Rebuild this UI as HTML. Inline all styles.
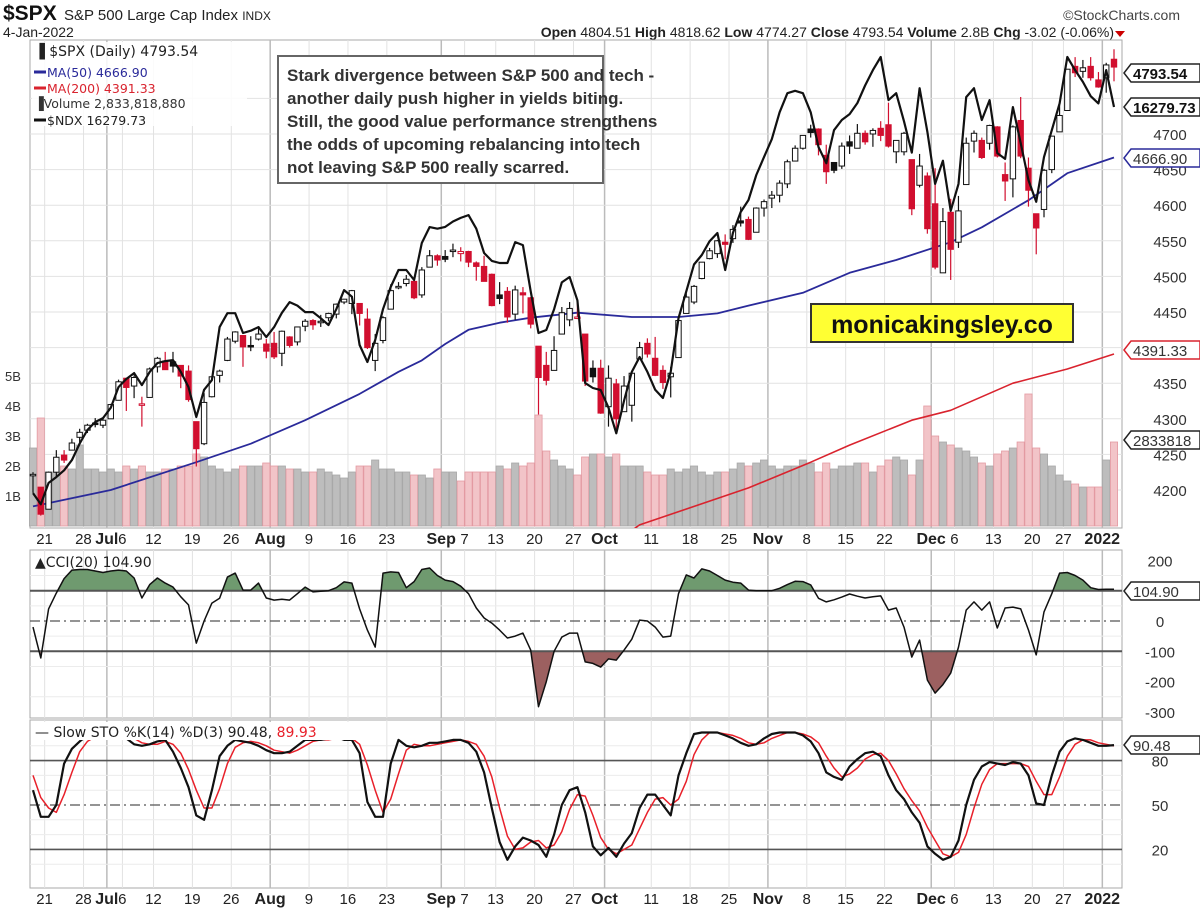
<!DOCTYPE html>
<html><head><meta charset="utf-8">
<style>
html,body{margin:0;padding:0;background:#fff;}
body{width:1200px;height:912px;overflow:hidden;font-family:"Liberation Sans",Arial,sans-serif;}
svg{display:block}
</style></head>
<body>
<svg id="chart" width="1200" height="912" viewBox="0 0 1200 912" xmlns="http://www.w3.org/2000/svg">
  <g>
    <text x="3" y="20" font-size="21" font-weight="bold" fill="#111">$SPX</text>
    <text x="64" y="20" font-size="15" fill="#222">S&amp;P 500 Large Cap Index <tspan font-size="12">INDX</tspan></text>
    <text x="1180" y="20" font-size="14" fill="#444" text-anchor="end">©StockCharts.com</text>
    <text x="3" y="37" font-size="14" fill="#222">4-Jan-2022</text>
    <text x="1114" y="37" font-size="14" fill="#222" text-anchor="end"><tspan font-weight="bold">Open</tspan> 4804.51  <tspan font-weight="bold">High</tspan> 4818.62  <tspan font-weight="bold">Low</tspan> 4774.27  <tspan font-weight="bold">Close</tspan> 4793.54  <tspan font-weight="bold">Volume</tspan> 2.8B  <tspan font-weight="bold">Chg</tspan> -3.02 (-0.06%)</text>
    <path d="M1115 31 L1125 31 L1120 37 Z" fill="#c00"/>
  </g>
  <g id="main"></g>
  <g id="cci"></g>
  <g id="sto"></g>
</svg>
<script>
const dates=["6/17","6/18","6/21","6/22","6/23","6/24","6/25","6/28","6/29","6/30","7/1","7/2","7/6","7/7","7/8","7/9","7/12","7/13","7/14","7/15","7/16","7/19","7/20","7/21","7/22","7/23","7/26","7/27","7/28","7/29","7/30","8/2","8/3","8/4","8/5","8/6","8/9","8/10","8/11","8/12","8/13","8/16","8/17","8/18","8/19","8/20","8/23","8/24","8/25","8/26","8/27","8/30","8/31","9/1","9/2","9/3","9/7","9/8","9/9","9/10","9/13","9/14","9/15","9/16","9/17","9/20","9/21","9/22","9/23","9/24","9/27","9/28","9/29","9/30","10/1","10/4","10/5","10/6","10/7","10/8","10/11","10/12","10/13","10/14","10/15","10/18","10/19","10/20","10/21","10/22","10/25","10/26","10/27","10/28","10/29","11/1","11/2","11/3","11/4","11/5","11/8","11/9","11/10","11/11","11/12","11/15","11/16","11/17","11/18","11/19","11/22","11/23","11/24","11/26","11/29","11/30","12/1","12/2","12/3","12/6","12/7","12/8","12/9","12/10","12/13","12/14","12/15","12/16","12/17","12/20","12/21","12/22","12/23","12/27","12/28","12/29","12/30","12/31","1/3","1/4"];
const opens=[4220,4204,4173,4225,4249,4256,4274,4284,4294,4291,4300,4326,4357,4346,4321,4330,4373,4381,4380,4375,4367,4296,4265,4331,4361,4382,4409,4417,4403,4412,4405,4406,4392,4415,4408,4430,4438,4436,4442,4447,4464,4462,4462,4440,4382,4410,4454,4484,4490,4493,4474,4513,4529,4528,4535,4532,4535,4519,4514,4503,4474,4479,4447,4477,4470,4402,4375,4368,4419,4439,4442,4419,4371,4371,4317,4349,4310,4319,4384,4406,4385,4368,4359,4386,4448,4464,4497,4525,4532,4548,4553,4578,4580,4562,4596,4610,4614,4630,4662,4680,4707,4707,4670,4660,4655,4689,4680,4701,4700,4708,4713,4675,4675,4664,4628,4641,4602,4505,4590,4548,4629,4690,4691,4687,4710,4643,4637,4719,4652,4588,4594,4650,4703,4733,4795,4788,4795,4776,4779,4805];
const highs=[4225,4204,4226,4256,4256,4272,4286,4293,4301,4302,4321,4355,4357,4361,4331,4372,4387,4394,4394,4375,4375,4296,4336,4359,4369,4415,4423,4416,4416,4430,4412,4422,4424,4416,4429,4440,4440,4446,4449,4462,4468,4481,4462,4455,4419,4444,4489,4492,4502,4495,4513,4537,4531,4537,4546,4541,4536,4521,4529,4504,4492,4485,4487,4485,4471,4402,4394,4416,4457,4464,4467,4419,4382,4383,4375,4356,4360,4366,4408,4413,4415,4375,4373,4439,4476,4488,4520,4540,4551,4559,4572,4598,4584,4597,4608,4620,4635,4664,4684,4698,4713,4708,4685,4660,4688,4698,4714,4705,4708,4718,4744,4691,4703,4664,4672,4646,4652,4596,4609,4613,4695,4705,4695,4713,4711,4660,4712,4752,4667,4588,4651,4697,4741,4791,4808,4804,4808,4787,4800,4819];
const lows=[4196,4164,4173,4217,4238,4256,4267,4280,4288,4287,4300,4326,4311,4329,4289,4330,4365,4369,4365,4343,4324,4233,4263,4330,4351,4381,4406,4373,4395,4410,4385,4384,4374,4400,4403,4423,4425,4429,4437,4441,4461,4447,4431,4398,4367,4406,4454,4482,4486,4468,4470,4513,4515,4520,4527,4521,4513,4494,4493,4458,4461,4435,4439,4448,4427,4306,4347,4368,4419,4430,4440,4346,4351,4307,4289,4279,4310,4296,4384,4386,4360,4342,4330,4386,4448,4461,4496,4524,4526,4524,4547,4570,4551,4562,4584,4596,4604,4624,4662,4678,4695,4670,4630,4645,4651,4672,4680,4685,4682,4690,4681,4659,4670,4586,4625,4560,4510,4505,4495,4540,4629,4674,4665,4678,4667,4606,4611,4666,4598,4531,4583,4645,4703,4733,4780,4779,4775,4765,4758,4774];
const closes=[4222,4166,4225,4246,4242,4266,4281,4291,4292,4298,4320,4352,4344,4358,4321,4370,4385,4369,4374,4360,4327,4258,4323,4359,4367,4412,4422,4401,4401,4419,4395,4387,4423,4403,4429,4437,4432,4437,4448,4461,4468,4480,4448,4400,4406,4442,4480,4486,4496,4470,4509,4529,4523,4524,4537,4535,4520,4514,4493,4459,4469,4443,4481,4474,4433,4358,4354,4396,4449,4455,4443,4353,4359,4308,4357,4300,4346,4364,4400,4391,4361,4351,4364,4438,4471,4486,4520,4536,4550,4545,4566,4575,4552,4596,4605,4614,4631,4661,4680,4698,4702,4685,4647,4649,4683,4683,4701,4689,4705,4698,4683,4691,4701,4595,4655,4567,4513,4577,4538,4592,4687,4701,4667,4712,4669,4634,4710,4669,4621,4568,4649,4697,4726,4791,4786,4793,4779,4766,4797,4794];
const ndx=[14123,14060,14180,14212,14250,14307,14400,14475,14520,14542,14600,14715,14760,14793,14726,14800,14849,14860,14866,14800,14715,14548,14700,14754,15050,15128,15128,15017,15030,15050,14994,15050,15130,15190,15170,15134,15134,15100,15062,15150,15257,15220,14950,14855,14978,15150,15274,15369,15369,15313,15520,15609,15600,15610,15640,15660,15676,15600,15464,15420,15408,15408,15525,15508,15250,15017,15034,15150,15300,15330,15200,14737,14710,14698,14600,14457,14640,14800,14883,14800,14700,14654,14800,15100,15250,15400,15453,15530,15576,15369,15576,15693,15760,15900,16000,16100,16250,16357,16370,16357,16250,16056,15966,16150,16207,16240,16302,16400,16486,16559,16318,16357,16200,16025,16385,16140,15850,15980,15700,15850,16335,16385,16207,16318,16022,15990,16279,16078,15871,15750,16000,16150,16300,16559,16486,16420,16340,16300,16486,16280];
const volumes=[2.6,3.6,1.8,1.8,2.0,1.9,2.7,1.9,1.9,1.8,1.9,1.8,2.0,1.9,2.0,1.8,1.8,1.9,1.9,2.0,2.0,2.4,2.3,2.0,1.9,1.8,1.9,2.0,2.0,2.0,2.1,2.0,2.0,1.9,1.9,1.8,1.8,1.9,1.8,1.7,1.6,1.8,2.0,2.0,2.2,1.9,1.9,1.8,1.8,1.7,1.7,1.6,1.9,1.8,1.8,1.5,1.8,1.8,1.8,1.8,2.0,1.9,2.1,2.0,2.1,3.7,2.5,2.2,2.0,1.9,1.7,2.3,2.4,2.4,2.3,2.4,2.0,2.0,2.0,1.8,1.7,1.7,1.9,1.8,1.9,2.0,1.8,1.7,1.8,1.8,1.9,2.1,2.0,2.1,2.2,2.0,1.9,2.0,2.0,2.2,2.1,1.8,2.1,1.9,2.0,2.0,2.1,2.1,1.8,2.0,2.2,2.3,2.2,1.7,2.2,4.0,3.0,2.8,2.7,2.6,2.5,2.3,2.1,2.0,2.4,2.5,2.6,2.8,4.4,2.6,2.4,2.0,1.7,1.5,1.4,1.3,1.3,1.3,2.2,2.8];
const ma50Idx=[0,10,21,28,35,42,47,50,53,56,60,64,70,77,83,88,92,99,105,111,118,122,128,133,139];
const ma50=[4177,4200,4239,4265,4298,4335,4366,4382,4405,4425,4435,4442,4449,4443,4443,4448,4459,4477,4505,4523,4548,4569,4607,4645,4667];
const ma200Idx=[70,78,92,100,105,113,118,126,133,139];
const ma200=[4090,4151,4203,4239,4263,4298,4312,4350,4370,4391];
const cci=[-20,-122,40,92,140,168,170,170,165,160,165,168,165,142,76,120,142,125,112,80,53,-73,0,59,75,145,158,102,102,125,76,69,72,69,90,112,96,98,100,110,129,125,40,-30,-86,158,162,160,110,130,170,175,150,135,130,115,90,43,10,-7,-30,-56,-50,-40,-96,-283,-200,-100,-53,-40,-40,-135,-140,-152,-125,-129,-96,-60,3,0,-20,-53,-50,90,152,142,172,165,150,135,128,125,102,100,100,100,108,120,131,130,119,75,63,70,79,89,82,76,80,83,36,43,-20,-119,-63,-195,-238,-210,-172,-86,36,63,36,63,-23,43,46,40,-30,-112,30,90,158,160,150,135,110,104,105,105];
const stoK=[60,42,42,50,78,88,93,97,99,99,99,98,95,91,90,91,93,94,86,75,62,43,40,60,83,90,94,93,92,90,87,85,85,86,90,94,94,94,95,96,94,94,85,52,42,42,78,94,90,89,90,92,92,93,94,94,92,86,72,48,25,13,22,28,26,23,15,30,50,60,62,45,22,16,21,15,24,31,48,57,57,50,43,70,85,98,99,99,99,97,95,92,90,91,95,98,99,99,99,97,93,85,72,69,67,76,81,85,86,83,70,60,54,45,38,22,17,13,15,26,50,67,76,79,78,77,79,78,70,51,50,70,86,93,95,94,92,90,90,90.48];
const stoD=[70,55,48,45,57,72,86,93,96,98,99,99,97,95,92,91,91,93,91,85,74,60,48,48,61,78,89,92,93,92,90,87,86,85,87,90,93,94,94,95,95,95,91,77,60,45,54,71,87,91,90,90,91,92,93,94,93,91,83,69,48,29,20,21,25,26,21,23,32,47,57,56,43,28,20,17,20,23,34,45,54,55,50,54,66,84,94,99,99,98,97,95,92,91,92,95,97,99,99,98,96,92,83,75,69,71,75,81,84,85,80,71,61,53,46,35,26,17,15,18,30,48,64,74,78,78,78,78,76,66,57,57,69,83,91,94,94,92,91,89.93];
const priceTicks=[4200,4250,4300,4350,4400,4450,4500,4550,4600,4650,4700];
const volTicks=[1,2,3,4,5];
const cciTicks=[200,0,-100,-200,-300];
const stoTicks=[80,50,20];
const dateTicks=[[2,"21",0],[7,"28",0],[10,"Jul",1],[12,"6",0],[16,"12",0],[21,"19",0],[26,"26",0],[31,"Aug",1],[36,"9",0],[41,"16",0],[46,"23",0],[53,"Sep",1],[56,"7",0],[60,"13",0],[65,"20",0],[70,"27",0],[74,"Oct",1],[80,"11",0],[85,"18",0],[90,"25",0],[95,"Nov",1],[100,"8",0],[105,"15",0],[110,"22",0],[116,"Dec",1],[119,"6",0],[124,"13",0],[129,"20",0],[133,"27",0],[138,"2022",1]];

const NS="http://www.w3.org/2000/svg";
function mk(parent,tag,attrs,text){const e=document.createElementNS(NS,tag);for(const k in attrs)e.setAttribute(k,attrs[k]);if(text!==undefined)e.textContent=text;parent.appendChild(e);return e;}
const L=30,R=1122;
const xOf=i=>33+i*((1114-33)/(dates.length-1));
const yP=p=>134-(p-4700)*0.712;
const yN=v=>107-(v-16279.73)*0.179;
const yV=v=>526-v*30;
const yC=v=>621-v*0.303;
const yS=v=>805-(v-50)*1.48;

const main=document.getElementById('main');
const cciG=document.getElementById('cci');
const stoG=document.getElementById('sto');

function panelFrame(g,top,bot,name){
  const r=mk(g,'rect',{x:L,y:top,width:R-L,height:bot-top,fill:'#fff',stroke:'#aaa','stroke-width':1});
  
  
  dateTicks.forEach(t=>{
    const gx=xOf(t[0])-3.9;
    const ln=mk(g,'line',{x1:gx,x2:gx,y1:top,y2:bot,stroke:t[2]?'#bbb':'#e2e2e2','stroke-width':t[2]?1.5:1});
    
    
  });
}
panelFrame(main,40,528,'price-panel');
priceTicks.concat([4750]).forEach(p=>{
  const y=yP(p);
  const ln=mk(main,'line',{x1:L,x2:R,y1:y,y2:y,stroke:'#e2e2e2'});
  
  
});
priceTicks.forEach(p=>{
  const t=mk(main,'text',{x:1170,y:yP(p)+6,'font-size':15,fill:'#333','text-anchor':'middle'},String(p));
  
  
});
volTicks.forEach(v=>{
  const t=mk(main,'text',{x:5,y:yV(v)+5,'font-size':13,fill:'#333'},v+'B');
  
  
});
volumes.forEach((v,i)=>{
  const down=i>0&&closes[i]<closes[i-1];
  const b=mk(main,'rect',{x:xOf(i)-3.6,y:yV(v),width:7.2,height:526-yV(v),fill:down?'#f2c4c8':'#bdbdbd',stroke:down?'#e39aa2':'#a8a8a8','stroke-width':0.8});
  
  
});
function polyline(g,idx,vals,yf,color,w,name){
  const pts=idx.map((i,k)=>xOf(i).toFixed(1)+','+yf(vals[k]).toFixed(1)).join(' ');
  const p=mk(g,'polyline',{points:pts,fill:'none',stroke:color,'stroke-width':w,'stroke-linejoin':'round'});
  
  
  return p;
}
const clipM=mk(main,'clipPath',{id:'clipMain'});
mk(clipM,'rect',{x:L,y:40,width:R-L,height:488});
const maG=mk(main,'g',{'clip-path':'url(#clipMain)'});
polyline(maG,ma200Idx,ma200,yP,'#d9232e',1.6,'ma200-line');
polyline(maG,ma50Idx,ma50,yP,'#2a2a9a',1.8,'ma50-line');
closes.forEach((c,i)=>{
  const o=opens[i],h=highs[i],l=lows[i];
  const down=i>0&&c<closes[i-1];
  const col=down?'#d10f2f':'#111';
  const x=xOf(i);
  const w=mk(main,'line',{x1:x,x2:x,y1:yP(h),y2:yP(l),stroke:col,'stroke-width':1.2});
  
  
  const top=yP(Math.max(o,c)),bh=Math.max(1.5,Math.abs(yP(o)-yP(c)));
  const filled=c<o;
  const b=mk(main,'rect',{x:x-2.7,y:top,width:5.4,height:bh,fill:filled?col:'#fff',stroke:col,'stroke-width':1});
  
  
});
polyline(main,ndx.map((v,i)=>i),ndx,yN,'#111',2.2,'ndx-line');
const lg=mk(main,'g',{'font-family':'"DejaVu Sans",sans-serif','font-size':13});


mk(lg,'rect',{x:32,y:42,width:215,height:84,fill:'#fff','fill-opacity':0.85});
mk(lg,'text',{x:34,y:56,fill:'#222','font-size':14},'\u2590 $SPX (Daily) 4793.54');
mk(lg,'line',{x1:34,x2:46,y1:72,y2:72,stroke:'#2a2a9a','stroke-width':3});
mk(lg,'text',{x:47,y:77,fill:'#2a2a9a','font-size':12.5},'MA(50) 4666.90');
mk(lg,'line',{x1:34,x2:46,y1:88,y2:88,stroke:'#d9232e','stroke-width':3});
mk(lg,'text',{x:47,y:93,fill:'#d9232e','font-size':12.5},'MA(200) 4391.33');
mk(lg,'text',{x:34,y:108,fill:'#333','font-size':12.5},'\u2590Volume 2,833,818,880');
mk(lg,'line',{x1:34,x2:46,y1:120,y2:120,stroke:'#111','stroke-width':3});
mk(lg,'text',{x:47,y:125,fill:'#222','font-size':12.5},'$NDX 16279.73');
const an=mk(main,'g',{});


mk(an,'rect',{x:278,y:56,width:325,height:127,fill:'#fff',stroke:'#666','stroke-width':2});
["Stark divergence between S&P 500 and tech -","another daily push higher in yields biting.","Still, the good value performance strengthens","the odds of upcoming rebalancing into tech","not leaving S&P 500 really scarred."].forEach((s,k)=>{
  mk(an,'text',{x:287,y:81+k*23,'font-size':17,'font-weight':'bold',fill:'#333'},s);
});
const wm=mk(main,'g',{});


mk(wm,'rect',{x:811,y:304,width:262,height:38,fill:'#ffff33',stroke:'#333','stroke-width':2});
mk(wm,'text',{x:942,y:333,'font-size':25,'font-weight':'bold',fill:'#111','text-anchor':'middle'},'monicakingsley.co');
function tag(g,y,text,color,bold,name){
  const t=mk(g,'g',{});
  
  
  mk(t,'path',{d:`M1124 ${y} L1131 ${y-9} L1200 ${y-9} L1200 ${y+9} L1131 ${y+9} Z`,fill:'#fff',stroke:color,'stroke-width':1.5});
  mk(t,'text',{x:1133,y:y+6,'font-size':15,'font-weight':bold?'bold':'normal',fill:bold?'#111':'#333'},text);
}
tag(main,73,'4793.54','#222',true,'last-price-tag');
tag(main,107,'16279.73','#222',true,'ndx-value-tag');
tag(main,158,'4666.90','#2a2a9a',false,'ma50-value-tag');
tag(main,350,'4391.33','#d9232e',false,'ma200-value-tag');
tag(main,440,'2833818','#222',false,'volume-value-tag');

function dateAxis(y,name){
  dateTicks.forEach(t=>{
    const e=mk(document.getElementById('chart'),'text',{x:xOf(t[0])-4,y:y,'font-size':t[2]?16:15,'font-weight':t[2]?'bold':'normal',fill:'#222','text-anchor':'middle'},t[1]);
    
    
  });
}
dateAxis(544,'top-date-label');
dateAxis(904,'bottom-date-label');

panelFrame(cciG,550,718,'cci-panel');
[150,50,-50,-150,-250].forEach(v=>{const ln=mk(cciG,'line',{x1:L,x2:R,y1:yC(v),y2:yC(v),stroke:'#ececec'});});
const cPts=cci.map((v,i)=>[xOf(i),yC(v)]);
const defs=mk(cciG,'defs',{});
const c1=mk(defs,'clipPath',{id:'cAbove'});mk(c1,'rect',{x:L,y:550,width:R-L,height:yC(100)-550});
const c2=mk(defs,'clipPath',{id:'cBelow'});mk(c2,'rect',{x:L,y:yC(-100),width:R-L,height:718-yC(-100)});
const ptsStr=cPts.map(p=>p[0].toFixed(1)+','+p[1].toFixed(1)).join(' ');
const fa=mk(cciG,'polygon',{points:ptsStr+` ${xOf(cci.length-1)},${yC(100)} ${xOf(0)},${yC(100)}`,fill:'#6f9a6f','clip-path':'url(#cAbove)'});


const fb=mk(cciG,'polygon',{points:ptsStr+` ${xOf(cci.length-1)},${yC(-100)} ${xOf(0)},${yC(-100)}`,fill:'#9c6060','clip-path':'url(#cBelow)'});


[[100,'solid'],[-100,'solid'],[0,'dash']].forEach(a=>{
  const ln=mk(cciG,'line',{x1:L,x2:R,y1:yC(a[0]),y2:yC(a[0]),stroke:'#555','stroke-width':a[1]=='solid'?2:1.3,'stroke-dasharray':a[1]=='dash'?'10,4,2,4':'none'});
  
  
});
polyline(cciG,cci.map((v,i)=>i),cci,yC,'#111',1.5,'cci-line');
cciTicks.forEach(v=>{const t=mk(cciG,'text',{x:1160,y:yC(v)+6,'font-size':15,fill:'#333','text-anchor':'middle'},String(v));});
const cl=mk(cciG,'text',{x:35,y:567,'font-size':14,fill:'#222','font-family':'"DejaVu Sans",sans-serif'},'\u25B2CCI(20) 104.90');


tag(cciG,591,'104.90','#222',false,'cci-value-tag');

panelFrame(stoG,720,888,'stochastic-panel');
[90,70,60,40,30,10].forEach(v=>{const ln=mk(stoG,'line',{x1:L,x2:R,y1:yS(v),y2:yS(v),stroke:'#ececec'});});
[[80,'solid'],[20,'solid'],[50,'dash']].forEach(a=>{
  const ln=mk(stoG,'line',{x1:L,x2:R,y1:yS(a[0]),y2:yS(a[0]),stroke:'#555','stroke-width':a[1]=='solid'?1.6:1.3,'stroke-dasharray':a[1]=='dash'?'10,4,2,4':'none'});
  
  
});
const cS=mk(stoG,'clipPath',{id:'clipSto'});
mk(cS,'rect',{x:L,y:721,width:R-L,height:166});
const sG=mk(stoG,'g',{'clip-path':'url(#clipSto)'});
polyline(sG,stoD.map((v,i)=>i),stoD,yS,'#e8202a',1.5,'sto-d-line');
polyline(sG,stoK.map((v,i)=>i),stoK,yS,'#111',2.2,'sto-k-line');
mk(stoG,'rect',{x:32,y:722,width:330,height:18,fill:'#fff'});
const sl=mk(stoG,'text',{x:35,y:737,'font-size':14,fill:'#222','font-family':'"DejaVu Sans",sans-serif'},'');


mk(sl,'tspan',{},'\u2014 Slow STO %K(14) %D(3) 90.48, ');
mk(sl,'tspan',{fill:'#e8202a'},'89.93');
stoTicks.forEach(v=>{const t=mk(stoG,'text',{x:1160,y:yS(v)+6,'font-size':15,fill:'#333','text-anchor':'middle'},String(v));});
tag(stoG,745,'90.48','#222',false,'sto-value-tag');
</script>
</body></html>
